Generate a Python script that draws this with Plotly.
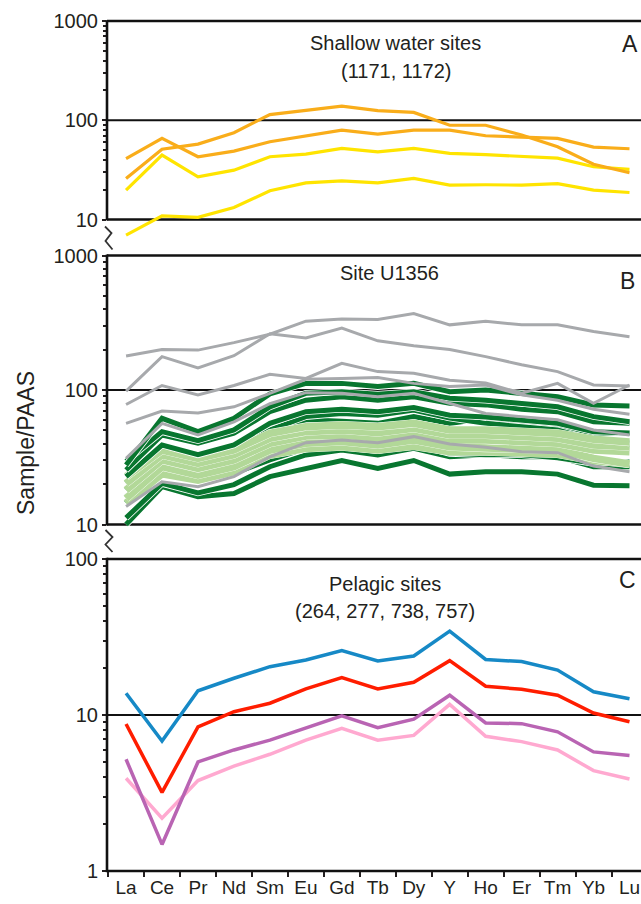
import math
import plotly.graph_objects as go

# ---------------- data ----------------
elements = ['La', 'Ce', 'Pr', 'Nd', 'Sm', 'Eu', 'Gd', 'Tb', 'Dy', 'Y', 'Ho', 'Er', 'Tm', 'Yb', 'Lu']

# Panel A - shallow water sites (1171, 1172)
a_orange1 = [25.9, 51, 57.5, 75, 114, 125, 139, 125, 120, 89, 89, 71, 54, 36, 29.6]
a_orange2 = [41, 65.6, 42.9, 48.9, 60.7, 69.8, 79.6, 72.5, 79.6, 79.6, 69.8, 67.6, 65.6, 53.6, 51.6]
a_yellow1 = [19.8, 44.6, 26.9, 31.4, 42.9, 45.6, 52, 48, 52, 46.3, 45, 43.5, 41.5, 34, 32]
a_yellow2 = [6.95, 10.9, 10.5, 13.2, 19.5, 23.4, 24.5, 23.4, 25.9, 22.2, 22.4, 22.2, 23, 19.8, 18.7]

# Panel B - Site U1356
b_grey1 = [179, 200, 198, 225, 260, 325, 337, 334, 370, 305, 325, 305, 305, 272, 249]
b_grey2 = [98, 177, 146, 180, 262, 244, 289, 232, 213, 200, 177, 154, 137, 109, 107]
b_grey3 = [78, 108, 92, 108, 131, 122, 158, 137, 133, 118, 113, 94.5, 112, 79.6, 109]
b_grey4 = [56.5, 69.7, 67.6, 75, 94.5, 120, 122, 124, 112, 106, 109, 92, 84, 72, 66]
b_grey5 = [31, 56.5, 46.3, 58, 79, 95.5, 94.5, 89, 94.5, 79.6, 67, 63.4, 60, 50.5, 46.3]
b_grey6 = [13.6, 20.8, 19.1, 22.7, 31.9, 40.6, 42.5, 40.6, 45, 39.7, 37.5, 34.8, 34.2, 27.2, 24.7]

b_dark1 = [27.7, 61.6, 49, 61.6, 93.5, 112, 112, 106, 112, 97, 100, 94.5, 89, 77.4, 76]
b_dark2 = [29.5, 49, 42, 50.5, 75, 94.5, 97, 93, 97, 87, 84, 79.6, 75, 63.4, 58]
b_dark3 = [25.4, 46.3, 40.2, 47.7, 69, 84, 89, 84, 89, 79.6, 77.5, 72, 69, 58, 56.5]
b_dark4 = [22.7, 39, 33, 39, 56.5, 69, 72, 69, 74, 65, 63, 60, 56.5, 49, 48]
b_dark5 = [20.2, 35.8, 30.2, 35.8, 50.5, 63.4, 67, 65, 71, 62, 56.5, 53.4, 50.5, 42.5, 40.6]
b_dark6 = [18, 31.9, 28.5, 33.4, 46.3, 60, 58.5, 56.5, 63.4, 56.5, 61.6, 56.5, 53.4, 47.7, 48]
b_dark7 = [14.4, 28.5, 24.3, 28.5, 39, 50.5, 53.4, 50.5, 56.5, 49, 47.7, 45, 44, 37.9, 37.9]
b_dark8 = [16.1, 25.4, 21.4, 24, 30.2, 36.8, 37.9, 35.4, 39.7, 33.8, 33, 33, 31.4, 28.5, 29.3]
b_dark9 = [11.2, 20.2, 17.2, 19.8, 26.9, 32.9, 35.8, 32.9, 36.8, 31.9, 33, 31.9, 31.9, 26.9, 26.9]
b_dark10 = [10, 19.1, 16.1, 17, 22.7, 26.1, 29.9, 26.1, 29.9, 23.7, 24.7, 24.7, 23.7, 19.6, 19.4]

b_light1 = [22.7, 35.8, 31, 35.8, 47.7, 53.4, 55, 53.4, 56.5, 50.5, 50.5, 49, 47.7, 43, 41]
b_light2 = [20.2, 33, 28.5, 33, 43.8, 49, 50.5, 48.2, 52, 46.3, 46.3, 45, 43.8, 39, 37.9]
b_light3 = [18, 30.2, 26.1, 30.2, 40.2, 45.5, 46.3, 43.8, 47.7, 42.5, 42.5, 41.4, 40.2, 35.8, 34.8]
b_light4 = [15.6, 26.9, 23.3, 26.9, 35.8, 40.2, 41.4, 39, 42.5, 37.9, 37, 36.3, 35.8, 31, 28.2]
b_light5 = [14.4, 23.8, 21.4, 24.7, 32.9, 36.8, 37.9, 35.8, 38.3, 34.8, 34.8, 33.8, 33.4, 29.9, 28.2]

# Panel C - pelagic sites
c_blue = [13.8, 6.8, 14.3, 17.2, 20.4, 22.5, 25.9, 22.2, 23.9, 34.5, 22.7, 22, 19.4, 14.1, 12.7]
c_red = [8.75, 3.19, 8.4, 10.5, 11.9, 14.7, 17.4, 14.7, 16.2, 22.3, 15.3, 14.6, 13.4, 10.3, 9.06]
c_purple = [5.2, 1.48, 5.0, 5.97, 6.9, 8.2, 9.86, 8.3, 9.4, 13.4, 8.9, 8.8, 7.8, 5.8, 5.5]
c_pink = [3.93, 2.18, 3.8, 4.7, 5.6, 6.9, 8.2, 6.9, 7.4, 11.7, 7.3, 6.75, 5.97, 4.4, 3.89]

# ---------------- styling ----------------
ORANGE = '#f9ad1a'
YELLOW = '#ffe400'
GREY = '#a7a9ac'
DKGREEN = '#08762f'
LTGREEN = '#b2d898'
BLUE = '#1689c6'
RED = '#ff1d00'
PURPLE = '#b964b3'
PINK = '#ffa9d0'
INK = '#231f20'

W, H = 641, 904
ML, MR, MT, MB = 107, 0, 0, 33
PW, PH = W - ML - MR, H - MT - MB

rngA = [0.8, 3]
rngB = [0.98, 3]
rngC = [0, 2]
domA = [(PH - 239.35) / PH, (PH - 21) / PH]
domB = [(PH - 527.2) / PH, (PH - 255.5) / PH]
domC = [0, (PH - 559) / PH]

fig = go.Figure()


def add_line(vals, color, width, yaxis, casing=0):
    if casing:
        fig.add_trace(go.Scatter(x=elements, y=vals, mode='lines', yaxis=yaxis,
                                 line=dict(color='white', width=width + casing),
                                 hoverinfo='skip', showlegend=False))
    fig.add_trace(go.Scatter(x=elements, y=vals, mode='lines', yaxis=yaxis,
                             line=dict(color=color, width=width), showlegend=False))


# Panel A
for s, c in [(a_yellow2, YELLOW), (a_yellow1, YELLOW), (a_orange2, ORANGE), (a_orange1, ORANGE)]:
    add_line(s, c, 3.2, 'y')

# Panel B
for s in [b_dark10, b_dark9, b_dark8, b_dark7, b_dark6, b_dark5]:
    add_line(s, DKGREEN, 5, 'y2', casing=1.6)
for s in [b_light5, b_light4, b_light3, b_light2, b_light1]:
    add_line(s, LTGREEN, 7.5, 'y2', casing=0.6)
for s in [b_dark4, b_dark3, b_dark2, b_dark1]:
    add_line(s, DKGREEN, 5, 'y2', casing=1.6)
for s in [b_grey6, b_grey5, b_grey4, b_grey3, b_grey2, b_grey1]:
    add_line(s, GREY, 3, 'y2')

# Panel C
for s, c in [(c_pink, PINK), (c_purple, PURPLE), (c_red, RED), (c_blue, BLUE)]:
    add_line(s, c, 3.5, 'y3')


def minor_vals(lo_dec, hi_dec):
    out = []
    for d in range(lo_dec, hi_dec):
        out += [k * 10 ** d for k in range(2, 10)]
    return out


def yax(rng, dom, majors, minors):
    return dict(type='log', range=rng, domain=dom, anchor='x',
                tickvals=majors, ticktext=[str(v) for v in majors],
                ticks='outside', ticklen=4, tickwidth=2, tickcolor=INK,
                showgrid=False, zeroline=False, showline=False,
                tickfont=dict(size=20, color=INK),
                minor=dict(tickvals=minors, ticks='outside', ticklen=3,
                           tickwidth=2, tickcolor=INK, showgrid=False))


fig.update_layout(
    width=W, height=H,
    margin=dict(l=ML, r=MR, t=MT, b=MB, autoexpand=False),
    plot_bgcolor='white', paper_bgcolor='white', showlegend=False,
    font=dict(family='Liberation Sans, Arial, sans-serif', color=INK),
    xaxis=dict(type='category', categoryorder='array', categoryarray=elements,
               range=[-0.53, 14.32], tickson='boundaries', ticks='outside',
               ticklen=5, tickwidth=2, tickcolor=INK, showgrid=False,
               showline=False, zeroline=False, anchor='y3', domain=[0, 1],
               tickangle=0, tickfont=dict(size=19, color=INK), ticklabelstandoff=3),
    yaxis=yax(rngA, domA, [10, 100, 1000], minor_vals(1, 3)),
    yaxis2=yax(rngB, domB, [10, 100, 1000], minor_vals(1, 3)),
    yaxis3=yax(rngC, domC, [1, 10, 100], minor_vals(0, 2)),
)


def frac(v, rng):
    return (math.log10(v) - rng[0]) / (rng[1] - rng[0])


shapes = []
for yref, rng, bot, mid, top in [('y domain', rngA, 10, 100, 1000),
                                 ('y2 domain', rngB, 10, 100, 1000),
                                 ('y3 domain', rngC, 1, 10, 100)]:
    for v, w in [(bot, 2.6), (top, 2.6), (mid, 2)]:
        f = frac(v, rng)
        shapes.append(dict(type='line', xref='paper', yref=yref, x0=0, x1=1.02,
                           y0=f, y1=f, line=dict(color='#111', width=w), layer='below'))
    shapes.append(dict(type='line', xref='paper', yref=yref, x0=0, x1=0,
                       y0=frac(bot, rng) - 0.004, y1=frac(top, rng) + 0.004,
                       line=dict(color='#111', width=2.6), layer='above'))


def px(xp, yp):
    return (xp - ML) / PW, (PH - yp) / PH


for pts in [[(105, 226.5), (111.5, 233), (105.5, 241), (112.5, 249.5)],
            [(105.5, 530), (112.5, 537), (105.5, 544.5), (112.5, 552)]]:
    path = ''
    for i, (a, b) in enumerate(pts):
        xx, yy = px(a, b)
        path += ('M' if i == 0 else 'L') + f'{xx:.5f},{yy:.5f} '
    shapes.append(dict(type='path', xref='paper', yref='paper', path=path.strip(),
                       line=dict(color='#333', width=1.8)))

fig.update_layout(shapes=shapes)

annots = [
    ('Shallow water sites', 395.5, 43, 20),
    ('(1171, 1172)', 396, 71, 20),
    ('A', 630, 44, 23),
    ('Site U1356', 389.5, 272.5, 20),
    ('B', 627, 281, 23),
    ('Pelagic sites', 385, 584, 20),
    ('(264, 277, 738, 757)', 385, 611, 20),
    ('C', 627, 580, 23),
]
for t, xp, yp, sz in annots:
    xx, yy = px(xp, yp)
    fig.add_annotation(text=t, x=xx, y=yy, xref='paper', yref='paper',
                       xanchor='center', yanchor='middle', showarrow=False,
                       font=dict(size=sz, color=INK))

xx, yy = px(26, 443)
fig.add_annotation(text='Sample/PAAS', x=xx, y=yy, xref='paper', yref='paper',
                   xanchor='center', yanchor='middle', showarrow=False, textangle=-90,
                   font=dict(size=23, color=INK))

fig.write_html('out.html', config={'displayModeBar': False},
               post_script="document.body.style.margin='0px';")
